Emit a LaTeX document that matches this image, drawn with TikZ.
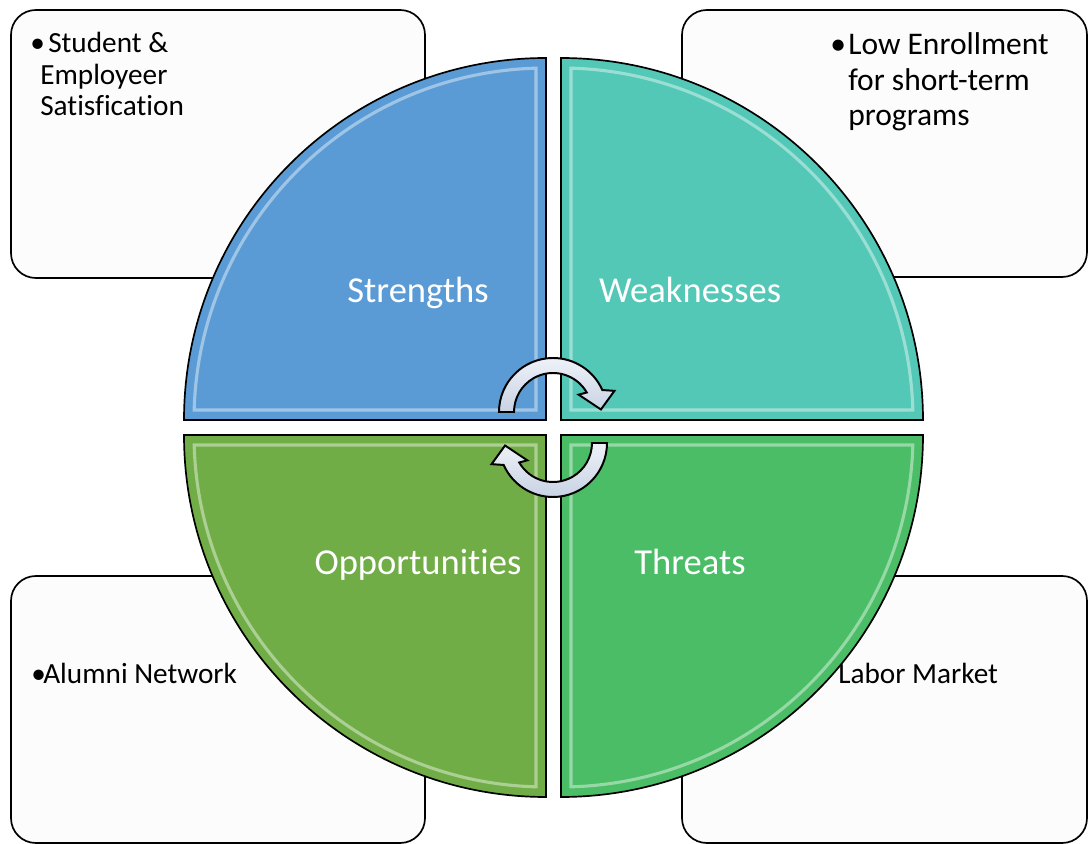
\documentclass[tikz,border=0pt]{standalone}
\usepackage{fontspec}
\setmainfont{Carlito}[Ligatures=NoCommon]
\usetikzlibrary{calc}

\definecolor{strengthblue}{RGB}{91,155,213}
\definecolor{weaknessteal}{RGB}{83,200,182}
\definecolor{opportgreen}{RGB}{112,173,71}
\definecolor{threatgreen}{RGB}{74,189,102}
\definecolor{boxgray}{RGB}{252,252,252}
\definecolor{arrowlight}{RGB}{238,242,248}
\definecolor{arrowdark}{RGB}{200,210,228}

\tikzset{
  infobox/.style={draw=black,fill=boxgray,line width=1.2pt,rounded corners=0.62cm},
  quadlabel/.style={text=white,anchor=base,inner sep=0,font=\fontsize{26}{31}\selectfont},
  boxtext/.style={anchor=base west,inner sep=0,font=\fontsize{20.8}{22.4}\selectfont},
  turnfill/.style={draw=black,line width=1.4pt,top color=arrowlight,bottom color=arrowdark}
}

% one quarter of the disc, drawn as the first quadrant and turned into place
\newcommand\swotquarter[3]{%
  \begin{scope}[shift={(#2)},rotate=#1]
    \filldraw[#3,draw=black,line width=1.2pt] (0,0) -- (0:362) arc (0:90:362) -- cycle;
    \draw[#3!40!white,opacity=.7,line width=2.2pt] (10,10) -- (1.63:352) arc (1.63:88.37:352) -- cycle;
  \end{scope}}

% curved arrow round the middle of the disc
\newcommand\turnarrow[2]{%
  \begin{scope}[shift={(#1)},rotate=#2]
    \path[turnfill] (180:54) arc (180:24:54) -- (19:65) -- (3:48) -- (34:31) -- (30:39) arc (30:180:39) -- cycle;
  \end{scope}}

\newcommand\swotbullet[1]{\makebox[#1][l]{\textbullet}}

\begin{document}
\begin{tikzpicture}[x=0.025cm,y=0.025cm]

\useasboundingbox (0,0) rectangle (1088,844);

% side boxes
\draw[infobox] (11,834) rectangle (425,566);
\draw[infobox] (682,834) rectangle (1087,567);
\draw[infobox] (11,268) rectangle (425,1);
\draw[infobox] (682,268) rectangle (1087,1);

\node[boxtext] (s-note) at (30,791) {\parbox[t]{7cm}{\raggedright\hangindent=0.25cm\hangafter=1
  \swotbullet{0.45cm}Student \&\newline Employeer\newline Satisfication}};
\node[boxtext,font=\fontsize{22.4}{24.9}\selectfont] (w-note) at (830,789) {\parbox[t]{7cm}{\raggedright\hangindent=0.45cm\hangafter=1
  \swotbullet{0.45cm}Low Enrollment\newline for short-term\newline programs}};
\node[boxtext] (o-note) at (31,160) {\swotbullet{0.3cm}Alumni Network};
\node[boxtext] (t-note) at (838,160) {Labor Market};

% the four quarters
\coordinate (S) at (546,424);
\coordinate (W) at (561,424);
\coordinate (O) at (546,409);
\coordinate (T) at (561,409);

\swotquarter{90}{S}{strengthblue}
\swotquarter{0}{W}{weaknessteal}
\swotquarter{180}{O}{opportgreen}
\swotquarter{270}{T}{threatgreen}

\node[quadlabel] (s-label) at (418,541) {Strengths};
\node[quadlabel] (w-label) at (690,541) {Weaknesses};
\node[quadlabel] (o-label) at (418,269) {Opportunities};
\node[quadlabel] (t-label) at (690,269) {Threats};

% arrows in the middle
\coordinate (hub) at (553,416.5);
\turnarrow{$(hub)+(0,15.5)$}{0}
\turnarrow{$(hub)+(0,-15.5)$}{180}

\end{tikzpicture}
\end{document}
